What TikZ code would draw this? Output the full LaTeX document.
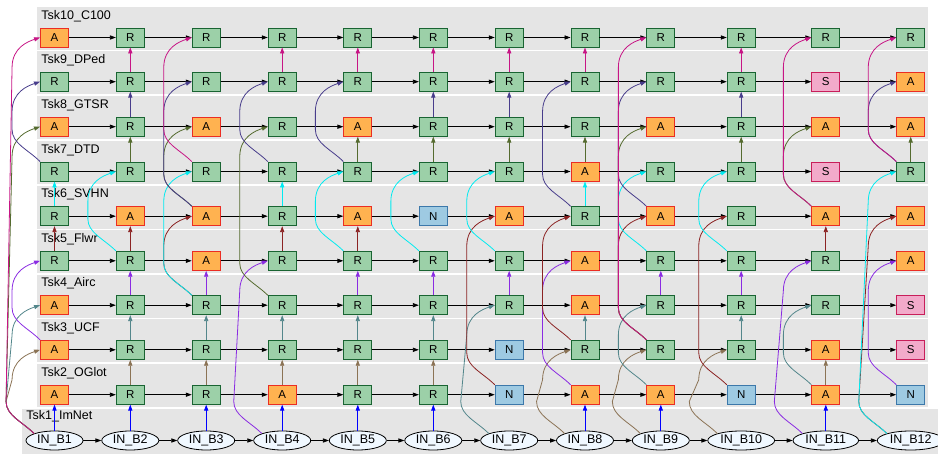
\documentclass[tikz,border=0pt]{standalone}
\usepackage{fontspec}
\setmainfont{Liberation Sans}
\usetikzlibrary{arrows.meta,shapes.geometric,calc}

\definecolor{bandgray}{RGB}{229,229,229}
\definecolor{rfill}{RGB}{156,208,168}
\definecolor{rline}{RGB}{25,100,50}
\definecolor{afill}{RGB}{255,178,80}
\definecolor{aline}{RGB}{235,45,35}
\definecolor{nfill}{RGB}{158,202,226}
\definecolor{nline}{RGB}{60,120,170}
\definecolor{sfill}{RGB}{242,170,202}
\definecolor{sline}{RGB}{200,30,90}
\definecolor{infill}{RGB}{240,248,255}
\definecolor{c2}{RGB}{0,0,255}
\definecolor{c3}{RGB}{139,115,85}
\definecolor{c4}{RGB}{83,134,139}
\definecolor{c5}{RGB}{138,43,226}
\definecolor{c6}{RGB}{139,35,35}
\definecolor{c7}{RGB}{0,235,240}
\definecolor{c8}{RGB}{85,107,47}
\definecolor{c9}{RGB}{72,61,139}
\definecolor{c10}{RGB}{199,21,133}

\tikzset{
  box/.style={draw,line width=0.9pt,minimum width=28pt,minimum height=19pt,inner sep=0pt,
    font=\fontsize{11.5}{13}\selectfont},
  rbox/.style={box,draw=rline,fill=rfill},
  abox/.style={box,draw=aline,fill=afill},
  nbox/.style={box,draw=nline,fill=nfill},
  sbox/.style={box,draw=sline,fill=sfill},
  inbox/.style={ellipse,draw,line width=0.8pt,fill=infill,inner xsep=2.8pt,inner ysep=0pt,minimum height=19pt},
  tlabel/.style={anchor=base west,inner sep=0pt},
  hook/.style={to path={(\tikztostart.north west) .. controls +(-12,-12) and +(0,14) .. ++(-28,-32)
    -- ($(\tikztotarget.west)+(-28,30)$) .. controls +(0,-20) and +(-12,4) .. (\tikztotarget.west)}}
}

\begin{document}
\begin{tikzpicture}[x=1pt,y=-1pt,font=\fontsize{12.5}{15}\selectfont,
    >={Triangle[length=6pt,width=4.2pt]},line width=0.8pt]
  \useasboundingbox (0,0) rectangle (938,454);
  % task bands
  \fill[bandgray] (37,7) rectangle (928,50);
  \fill[bandgray] (37,51.2) rectangle (928,94.2);
  \fill[bandgray] (37,96.2) rectangle (928,139.2);
  \fill[bandgray] (37,141) rectangle (928,184);
  \fill[bandgray] (37,185.7) rectangle (928,228.7);
  \fill[bandgray] (37,230.3) rectangle (928,273.3);
  \fill[bandgray] (37,274.7) rectangle (928,317.7);
  \fill[bandgray] (37,319.3) rectangle (928,362.3);
  \fill[bandgray] (37,364.2) rectangle (928,407.2);
  \fill[bandgray] (22,409) rectangle (938,454);
  % task names
  \draw
    (41,19.2) node[tlabel] (lab10){Tsk10\_C100}
    (41,63.4) node[tlabel] (lab9){Tsk9\_DPed}
    (41,108.4) node[tlabel] (lab8){Tsk8\_GTSR}
    (41,153.2) node[tlabel] (lab7){Tsk7\_DTD}
    (41,197.9) node[tlabel] (lab6){Tsk6\_SVHN}
    (41,242.5) node[tlabel] (lab5){Tsk5\_Flwr}
    (41,286.9) node[tlabel] (lab4){Tsk4\_Airc}
    (41,331.5) node[tlabel] (lab3){Tsk3\_UCF}
    (41,376.4) node[tlabel] (lab2){Tsk2\_OGlot}
    (26,420) node[tlabel] (lab1){Tsk1\_ImNet};
  % Tsk10
  \draw
    (54.5,37.5) node[abox] (r10c1){A}
    (130.3,37.5) node[rbox] (r10c2){R}
    (206.2,37.5) node[rbox] (r10c3){R}
    (282.2,37.5) node[rbox] (r10c4){R}
    (357.8,37.5) node[rbox] (r10c5){R}
    (433.3,37.5) node[rbox] (r10c6){R}
    (509.2,37.5) node[rbox] (r10c7){R}
    (585,37.5) node[rbox] (r10c8){R}
    (660.8,37.5) node[rbox] (r10c9){R}
    (741.2,37.5) node[rbox] (r10c10){R}
    (825.8,37.5) node[rbox] (r10c11){R}
    (910.7,37.5) node[rbox] (r10c12){R};
  % Tsk9
  \draw
    (54.5,81.7) node[rbox] (r9c1){R}
    (130.3,81.7) node[rbox] (r9c2){R}
    (206.2,81.7) node[rbox] (r9c3){R}
    (282.2,81.7) node[rbox] (r9c4){R}
    (357.8,81.7) node[rbox] (r9c5){R}
    (433.3,81.7) node[rbox] (r9c6){R}
    (509.2,81.7) node[rbox] (r9c7){R}
    (585,81.7) node[rbox] (r9c8){R}
    (660.8,81.7) node[rbox] (r9c9){R}
    (741.2,81.7) node[rbox] (r9c10){R}
    (825.8,81.7) node[sbox] (r9c11){S}
    (910.7,81.7) node[abox] (r9c12){A};
  % Tsk8
  \draw
    (54.5,126.7) node[abox] (r8c1){A}
    (130.3,126.7) node[rbox] (r8c2){R}
    (206.2,126.7) node[abox] (r8c3){A}
    (282.2,126.7) node[rbox] (r8c4){R}
    (357.8,126.7) node[abox] (r8c5){A}
    (433.3,126.7) node[rbox] (r8c6){R}
    (509.2,126.7) node[rbox] (r8c7){R}
    (585,126.7) node[rbox] (r8c8){R}
    (660.8,126.7) node[abox] (r8c9){A}
    (741.2,126.7) node[rbox] (r8c10){R}
    (825.8,126.7) node[abox] (r8c11){A}
    (910.7,126.7) node[abox] (r8c12){A};
  % Tsk7
  \draw
    (54.5,171.5) node[rbox] (r7c1){R}
    (130.3,171.5) node[rbox] (r7c2){R}
    (206.2,171.5) node[rbox] (r7c3){R}
    (282.2,171.5) node[rbox] (r7c4){R}
    (357.8,171.5) node[rbox] (r7c5){R}
    (433.3,171.5) node[rbox] (r7c6){R}
    (509.2,171.5) node[rbox] (r7c7){R}
    (585,171.5) node[abox] (r7c8){A}
    (660.8,171.5) node[rbox] (r7c9){R}
    (741.2,171.5) node[rbox] (r7c10){R}
    (825.8,171.5) node[sbox] (r7c11){S}
    (910.7,171.5) node[rbox] (r7c12){R};
  % Tsk6
  \draw
    (54.5,216.2) node[rbox] (r6c1){R}
    (130.3,216.2) node[abox] (r6c2){A}
    (206.2,216.2) node[abox] (r6c3){A}
    (282.2,216.2) node[rbox] (r6c4){R}
    (357.8,216.2) node[abox] (r6c5){A}
    (433.3,216.2) node[nbox] (r6c6){N}
    (509.2,216.2) node[abox] (r6c7){A}
    (585,216.2) node[rbox] (r6c8){R}
    (660.8,216.2) node[abox] (r6c9){A}
    (741.2,216.2) node[rbox] (r6c10){R}
    (825.8,216.2) node[abox] (r6c11){A}
    (910.7,216.2) node[abox] (r6c12){A};
  % Tsk5
  \draw
    (54.5,260.8) node[rbox] (r5c1){R}
    (130.3,260.8) node[rbox] (r5c2){R}
    (206.2,260.8) node[abox] (r5c3){A}
    (282.2,260.8) node[rbox] (r5c4){R}
    (357.8,260.8) node[rbox] (r5c5){R}
    (433.3,260.8) node[rbox] (r5c6){R}
    (509.2,260.8) node[rbox] (r5c7){R}
    (585,260.8) node[abox] (r5c8){A}
    (660.8,260.8) node[rbox] (r5c9){R}
    (741.2,260.8) node[rbox] (r5c10){R}
    (825.8,260.8) node[rbox] (r5c11){R}
    (910.7,260.8) node[abox] (r5c12){A};
  % Tsk4
  \draw
    (54.5,305.2) node[abox] (r4c1){A}
    (130.3,305.2) node[rbox] (r4c2){R}
    (206.2,305.2) node[rbox] (r4c3){R}
    (282.2,305.2) node[rbox] (r4c4){R}
    (357.8,305.2) node[rbox] (r4c5){R}
    (433.3,305.2) node[rbox] (r4c6){R}
    (509.2,305.2) node[rbox] (r4c7){R}
    (585,305.2) node[abox] (r4c8){A}
    (660.8,305.2) node[rbox] (r4c9){R}
    (741.2,305.2) node[rbox] (r4c10){R}
    (825.8,305.2) node[rbox] (r4c11){R}
    (910.7,305.2) node[sbox] (r4c12){S};
  % Tsk3
  \draw
    (54.5,349.8) node[abox] (r3c1){A}
    (130.3,349.8) node[rbox] (r3c2){R}
    (206.2,349.8) node[rbox] (r3c3){R}
    (282.2,349.8) node[rbox] (r3c4){R}
    (357.8,349.8) node[rbox] (r3c5){R}
    (433.3,349.8) node[rbox] (r3c6){R}
    (509.2,349.8) node[nbox] (r3c7){N}
    (585,349.8) node[rbox] (r3c8){R}
    (660.8,349.8) node[rbox] (r3c9){R}
    (741.2,349.8) node[rbox] (r3c10){R}
    (825.8,349.8) node[abox] (r3c11){A}
    (910.7,349.8) node[sbox] (r3c12){S};
  % Tsk2
  \draw
    (54.5,394.7) node[abox] (r2c1){A}
    (130.3,394.7) node[rbox] (r2c2){R}
    (206.2,394.7) node[rbox] (r2c3){R}
    (282.2,394.7) node[abox] (r2c4){A}
    (357.8,394.7) node[rbox] (r2c5){R}
    (433.3,394.7) node[rbox] (r2c6){R}
    (509.2,394.7) node[nbox] (r2c7){N}
    (585,394.7) node[abox] (r2c8){A}
    (660.8,394.7) node[abox] (r2c9){A}
    (741.2,394.7) node[nbox] (r2c10){N}
    (825.8,394.7) node[abox] (r2c11){A}
    (910.7,394.7) node[nbox] (r2c12){N};
  % Tsk1 inputs
  \draw
    (54.5,440.5) node[inbox] (r1c1){IN\_B1}
    (130.3,440.5) node[inbox] (r1c2){IN\_B2}
    (206.2,440.5) node[inbox] (r1c3){IN\_B3}
    (282.2,440.5) node[inbox] (r1c4){IN\_B4}
    (357.8,440.5) node[inbox] (r1c5){IN\_B5}
    (433.3,440.5) node[inbox] (r1c6){IN\_B6}
    (509.2,440.5) node[inbox] (r1c7){IN\_B7}
    (585,440.5) node[inbox] (r1c8){IN\_B8}
    (660.8,440.5) node[inbox] (r1c9){IN\_B9}
    (741.2,440.5) node[inbox] (r1c10){IN\_B10}
    (825.8,440.5) node[inbox] (r1c11){IN\_B11}
    (910.7,440.5) node[inbox] (r1c12){IN\_B12};
  % batches in time
  \begin{scope}[->]
    \draw (r10c1) edge (r10c2) (r10c2) edge (r10c3) (r10c3) edge (r10c4) (r10c4) edge (r10c5) (r10c5) edge (r10c6) (r10c6) edge (r10c7) (r10c7) edge (r10c8) (r10c8) edge (r10c9) (r10c9) edge (r10c10) (r10c10) edge (r10c11) (r10c11) edge (r10c12);
    \draw (r9c1) edge (r9c2) (r9c2) edge (r9c3) (r9c3) edge (r9c4) (r9c4) edge (r9c5) (r9c5) edge (r9c6) (r9c6) edge (r9c7) (r9c7) edge (r9c8) (r9c8) edge (r9c9) (r9c9) edge (r9c10) (r9c10) edge (r9c11) (r9c11) edge (r9c12);
    \draw (r8c1) edge (r8c2) (r8c2) edge (r8c3) (r8c3) edge (r8c4) (r8c4) edge (r8c5) (r8c5) edge (r8c6) (r8c6) edge (r8c7) (r8c7) edge (r8c8) (r8c8) edge (r8c9) (r8c9) edge (r8c10) (r8c10) edge (r8c11) (r8c11) edge (r8c12);
    \draw (r7c1) edge (r7c2) (r7c2) edge (r7c3) (r7c3) edge (r7c4) (r7c4) edge (r7c5) (r7c5) edge (r7c6) (r7c6) edge (r7c7) (r7c7) edge (r7c8) (r7c8) edge (r7c9) (r7c9) edge (r7c10) (r7c10) edge (r7c11) (r7c11) edge (r7c12);
    \draw (r6c1) edge (r6c2) (r6c2) edge (r6c3) (r6c3) edge (r6c4) (r6c4) edge (r6c5) (r6c5) edge (r6c6) (r6c6) edge (r6c7) (r6c7) edge (r6c8) (r6c8) edge (r6c9) (r6c9) edge (r6c10) (r6c10) edge (r6c11) (r6c11) edge (r6c12);
    \draw (r5c1) edge (r5c2) (r5c2) edge (r5c3) (r5c3) edge (r5c4) (r5c4) edge (r5c5) (r5c5) edge (r5c6) (r5c6) edge (r5c7) (r5c7) edge (r5c8) (r5c8) edge (r5c9) (r5c9) edge (r5c10) (r5c10) edge (r5c11) (r5c11) edge (r5c12);
    \draw (r4c1) edge (r4c2) (r4c2) edge (r4c3) (r4c3) edge (r4c4) (r4c4) edge (r4c5) (r4c5) edge (r4c6) (r4c6) edge (r4c7) (r4c7) edge (r4c8) (r4c8) edge (r4c9) (r4c9) edge (r4c10) (r4c10) edge (r4c11) (r4c11) edge (r4c12);
    \draw (r3c1) edge (r3c2) (r3c2) edge (r3c3) (r3c3) edge (r3c4) (r3c4) edge (r3c5) (r3c5) edge (r3c6) (r3c6) edge (r3c7) (r3c7) edge (r3c8) (r3c8) edge (r3c9) (r3c9) edge (r3c10) (r3c10) edge (r3c11) (r3c11) edge (r3c12);
    \draw (r2c1) edge (r2c2) (r2c2) edge (r2c3) (r2c3) edge (r2c4) (r2c4) edge (r2c5) (r2c5) edge (r2c6) (r2c6) edge (r2c7) (r2c7) edge (r2c8) (r2c8) edge (r2c9) (r2c9) edge (r2c10) (r2c10) edge (r2c11) (r2c11) edge (r2c12);
    \draw (r1c1) edge (r1c2) (r1c2) edge (r1c3) (r1c3) edge (r1c4) (r1c4) edge (r1c5) (r1c5) edge (r1c6) (r1c6) edge (r1c7) (r1c7) edge (r1c8) (r1c8) edge (r1c9) (r1c9) edge (r1c10) (r1c10) edge (r1c11) (r1c11) edge (r1c12);
  \end{scope}
  % into Tsk2
  \begin{scope}[->,c2]
    \draw (r1c1) to (r2c1);
    \draw (r1c2) to (r2c2);
    \draw (r1c3) to (r2c3);
    \draw (r1c4) to (r2c4);
    \draw (r1c5) to (r2c5);
    \draw (r1c6) to (r2c6);
    \draw (r1c8) to (r2c8);
    \draw (r1c9) to (r2c9);
    \draw (r1c11) to (r2c11);
  \end{scope}
  % into Tsk3
  \begin{scope}[->,c3]
    \draw (r2c2) to (r3c2);
    \draw (r2c3) to (r3c3);
    \draw (r2c4) to (r3c4);
    \draw (r2c5) to (r3c5);
    \draw (r2c6) to (r3c6);
    \draw (r2c11) to (r3c11);
    \draw[hook] (r1c1) to (r3c1);
    \draw[hook] (r1c8) to (r3c8);
    \draw[hook] (r1c9) to (r3c9);
    \draw[hook] (r1c10) to (r3c10);
  \end{scope}
  % into Tsk4
  \begin{scope}[->,c4]
    \draw (r3c2) to (r4c2);
    \draw (r3c3) to (r4c3);
    \draw (r3c4) to (r4c4);
    \draw (r3c5) to (r4c5);
    \draw (r3c6) to (r4c6);
    \draw (r3c8) to (r4c8);
    \draw (r3c10) to (r4c10);
    \draw[hook] (r1c1) to (r4c1);
    \draw[hook] (r1c7) to (r4c7);
    \draw[hook] (r2c9) to (r4c9);
    \draw[hook] (r2c11) to (r4c11);
  \end{scope}
  % into Tsk5
  \begin{scope}[->,c5]
    \draw (r4c2) to (r5c2);
    \draw (r4c3) to (r5c3);
    \draw (r4c5) to (r5c5);
    \draw (r4c6) to (r5c6);
    \draw (r4c7) to (r5c7);
    \draw (r4c9) to (r5c9);
    \draw (r4c10) to (r5c10);
    \draw[hook] (r3c1) to (r5c1);
    \draw[hook] (r1c4) to (r5c4);
    \draw[hook] (r2c8) to (r5c8);
    \draw[hook] (r1c11) to (r5c11);
    \draw[hook] (r2c12) to (r5c12);
  \end{scope}
  % into Tsk6
  \begin{scope}[->,c6]
    \draw (r5c1) to (r6c1);
    \draw (r5c2) to (r6c2);
    \draw (r5c4) to (r6c4);
    \draw (r5c5) to (r6c5);
    \draw (r5c11) to (r6c11);
    \draw[hook] (r4c3) to (r6c3);
    \draw[hook] (r2c7) to (r6c7);
    \draw[hook] (r3c8) to (r6c8);
    \draw[hook] (r3c9) to (r6c9);
    \draw[hook] (r2c10) to (r6c10);
    \draw[hook] (r1c12) to (r6c12);
  \end{scope}
  % into Tsk7
  \begin{scope}[->,c7]
    \draw (r6c1) to (r7c1);
    \draw (r6c4) to (r7c4);
    \draw (r6c8) to (r7c8);
    \draw[hook] (r5c2) to (r7c2);
    \draw[hook] (r4c3) to (r7c3);
    \draw[hook] (r5c5) to (r7c5);
    \draw[hook] (r5c6) to (r7c6);
    \draw[hook] (r5c7) to (r7c7);
    \draw[hook] (r5c9) to (r7c9);
    \draw[hook] (r5c10) to (r7c10);
    \draw[hook] (r1c12) to (r7c12);
  \end{scope}
  % into Tsk8
  \begin{scope}[->,c8]
    \draw (r7c2) to (r8c2);
    \draw (r7c5) to (r8c5);
    \draw (r7c6) to (r8c6);
    \draw (r7c7) to (r8c7);
    \draw (r7c8) to (r8c8);
    \draw (r7c10) to (r8c10);
    \draw (r7c12) to (r8c12);
    \draw[hook] (r1c1) to (r8c1);
    \draw[hook] (r6c3) to (r8c3);
    \draw[hook] (r4c4) to (r8c4);
    \draw[hook] (r3c9) to (r8c9);
    \draw[hook] (r6c11) to (r8c11);
  \end{scope}
  % into Tsk9
  \begin{scope}[->,c9]
    \draw (r8c2) to (r9c2);
    \draw (r8c6) to (r9c6);
    \draw (r8c7) to (r9c7);
    \draw (r8c10) to (r9c10);
    \draw[hook] (r7c1) to (r9c1);
    \draw[hook] (r6c3) to (r9c3);
    \draw[hook] (r7c4) to (r9c4);
    \draw[hook] (r7c5) to (r9c5);
    \draw[hook] (r6c8) to (r9c8);
    \draw[hook] (r6c9) to (r9c9);
    \draw[hook] (r7c12) to (r9c12);
  \end{scope}
  % into Tsk10
  \begin{scope}[->,c10]
    \draw (r9c2) to (r10c2);
    \draw (r9c4) to (r10c4);
    \draw (r9c5) to (r10c5);
    \draw (r9c6) to (r10c6);
    \draw (r9c7) to (r10c7);
    \draw (r9c8) to (r10c8);
    \draw (r9c10) to (r10c10);
    \draw[hook] (r1c1) to (r10c1);
    \draw[hook] (r7c3) to (r10c3);
    \draw[hook] (r3c9) to (r10c9);
    \draw[hook] (r6c11) to (r10c11);
    \draw[hook] (r7c12) to (r10c12);
  \end{scope}
\end{tikzpicture}
\end{document}
